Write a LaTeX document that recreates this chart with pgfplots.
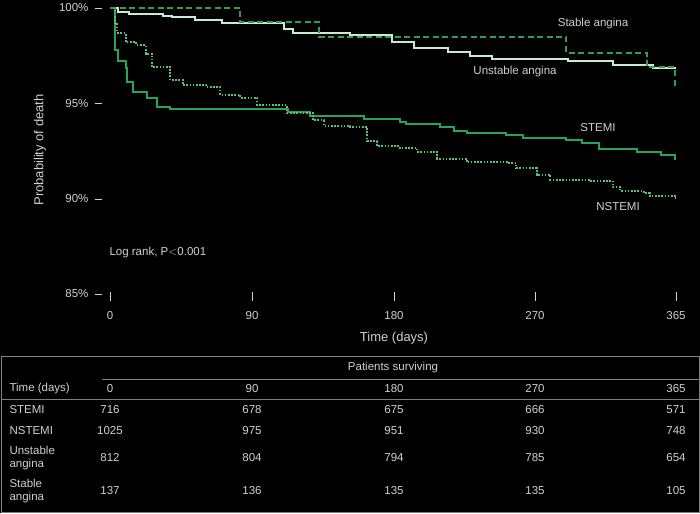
\documentclass[border=0pt]{standalone}
\usepackage{pgfplots}
\pgfplotsset{compat=1.18}
\usepackage{fontspec}
\setmainfont{Liberation Sans}
\definecolor{stemi}{HTML}{27A35A}
\definecolor{nstemi}{HTML}{5CC07A}
\definecolor{unst}{HTML}{C8EAD0}
\definecolor{stab}{HTML}{2E9E55}
\definecolor{txt}{HTML}{D0D0D0}
\begin{document}
\begin{tikzpicture}[x=1pt,y=-1pt,font=\fontsize{11.5}{13}\selectfont]
\fill[black] (0,0) rectangle (700,513);
\begin{axis}[at={(110pt,-294pt)},anchor=south west,scale only axis,
  x=1.551pt,y=19.07pt,xmin=0,xmax=365,ymin=85,ymax=100,clip=false,
  axis lines=none,
  /pgf/number format/assume math mode=true,
  ]
\addplot[const plot,draw=stemi,line width=2pt] coordinates {(0,100)(2,100)(3,97.8)(5,97.2)(10,96.85)(11,96.1)(15,95.6)(24,95.3)(30,94.8)(39,94.7)(115,94.55)(129,94.35)(164,94.2)(187,94.0)(191,93.9)(213,93.75)(222,93.55)(230,93.45)(255,93.35)(266,93.2)(294,93.05)(304,92.9)(315,92.6)(340,92.45)(355,92.3)(364,92.1)(365,92.1)};
\addplot[const plot,draw=nstemi,line width=2pt,dash pattern=on 1.6pt off 1.6pt] coordinates {(0,100)(2,100)(3,99.2)(4.5,98.7)(10,98.2)(17,98.05)(23,97.6)(27,96.9)(39,96.2)(47,95.95)(62,95.85)(71,95.45)(84,95.3)(95,94.9)(114,94.5)(131,94.1)(138,93.8)(155,93.75)(166,93.0)(172,92.75)(187,92.65)(198,92.45)(211,92.1)(230,91.9)(256,91.85)(262,91.6)(275,91.25)(284,91.0)(309,90.95)(324,90.6)(329,90.4)(344,90.3)(348,90.15)(364,90.05)(365,90.05)};
\addplot[const plot,draw=unst,line width=2pt] coordinates {(0,100)(2,100)(5,99.8)(12,99.7)(34,99.6)(40,99.5)(55,99.35)(72,99.2)(112,98.9)(118,98.7)(155,98.6)(182,98.2)(196,97.9)(218,97.7)(232,97.5)(246,97.3)(295,97.2)(324,97.0)(350,96.85)(365,96.85)};
\addplot[const plot,draw=stab,line width=2pt,dash pattern=on 6pt off 3.5pt] coordinates {(0,100)(84,99.25)(135,98.5)(294,97.65)(346,96.9)(364,95.85)(365,95.85)};
\end{axis}
% y ticks
\foreach \v/\yy in {100/8,95/103.3,90/198.7,85/294}{
  \draw[txt] (95,\yy) -- (102,\yy);
  \node[txt,anchor=east] at (92,\yy) {\v\%};}
\foreach \d/\xx in {0/110,90/252,180/394,270/535,365/676}{
  \draw[txt] (\xx,292) -- (\xx,301);
  \node[txt] at (\xx,316) {\d};}
\node[txt,rotate=90,font=\fontsize{13}{15}\selectfont] at (40,150) {Probability of death};
\node[txt,font=\fontsize{13}{15}\selectfont] at (394,338) {Time (days)};
\node[txt,anchor=west] at (106,253) {Log rank, P$<$0.001};
\node[txt] at (593,24) {Stable angina};
\node[txt] at (515,72) {Unstable angina};
\node[txt] at (598,128) {STEMI};
\node[txt] at (618,207) {NSTEMI};
% table
\draw[gray,line width=0.8pt] (1,356) rectangle (699,512);
\draw[gray] (102,379) -- (699,379);
\draw[gray] (1,399) -- (699,399);
\node[txt] at (393,368) {Patients surviving};
\node[txt,anchor=west] at (6,389) {Time (days)};
\foreach \d/\xx in {0/110,90/252,180/394,270/535,365/676}{\node[txt] at (\xx,389) {\d};}
\node[txt,anchor=west] at (6,410) {STEMI};
\node[txt,anchor=west] at (6,431) {NSTEMI};
\node[txt,anchor=west,align=left] at (6,458) {Unstable\\angina};
\node[txt,anchor=west,align=left] at (6,491) {Stable\\angina};
\foreach \a/\b/\c/\d/\e/\yy in {716/678/675/666/571/410,1025/975/951/930/748/431,812/804/794/785/654/458,137/136/135/135/105/491}{
  \node[txt] at (110,\yy) {\a};\node[txt] at (252,\yy) {\b};\node[txt] at (394,\yy) {\c};
  \node[txt] at (535,\yy) {\d};\node[txt] at (676,\yy) {\e};}
\end{tikzpicture}
\end{document}
